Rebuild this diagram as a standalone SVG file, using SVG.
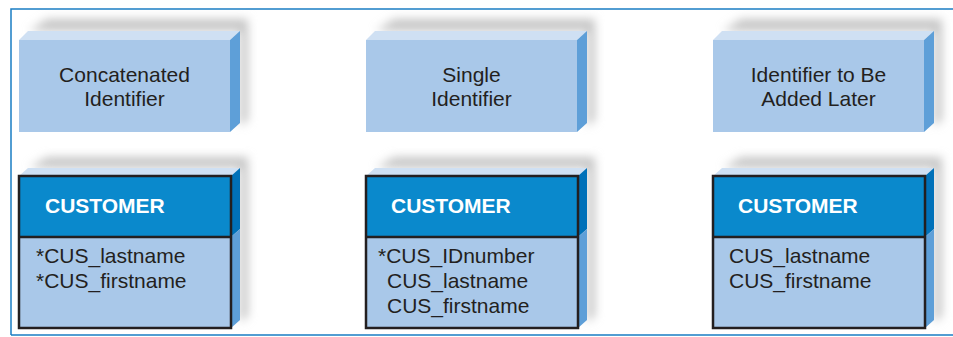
<svg xmlns="http://www.w3.org/2000/svg" xmlns:xlink="http://www.w3.org/1999/xlink" width="953" height="337" viewBox="0 0 953 337">
<style>
.lbl{font-family:"Liberation Sans",Arial,sans-serif;font-size:21px;fill:#231f20;}
.hdr{font-family:"Liberation Sans",Arial,sans-serif;font-size:21px;font-weight:bold;fill:#ffffff;}
.front{fill:#a9c8e9;}
.top{fill:#cfe0f3;}
.side{fill:#5e9fd8;}
.hside{fill:#0071b9;}
.head{fill:#0a89cc;}
.edge{fill:none;stroke:#231f20;stroke-width:2.5;}
.shadow{fill:#c6c6c6;}
.frame{fill:none;stroke:#1a7dc4;stroke-width:1.5;}
</style>
<defs>
<filter id="blur" x="-20%" y="-40%" width="140%" height="180%">
<feGaussianBlur stdDeviation="5"/>
</filter>
<g id="idBox">
<polygon class="shadow" points="28,-21 229,-21 229,80 221,86 221,-9 10,-9" filter="url(#blur)"/>
<rect class="front" x="0" y="0" width="211" height="92"/>
<polygon class="top" points="0,0 9,-9 221,-9 211,0"/>
<polygon class="side" points="211,0 221,-9 221,83 211,92"/>
</g>
<g id="entBox">
<polygon class="shadow" points="28,-19 229,-19 229,140 221,146 221,-8 10,-8" filter="url(#blur)"/>
<rect class="front" x="0" y="0" width="212" height="152"/>
<rect class="head" x="0" y="0" width="212" height="61"/>
<polygon class="top" points="0,0 9,-8 221,-8 212,0"/>
<polygon class="hside" points="212,0 221,-8 221,53 212,61"/>
<polygon class="side" points="212,61 221,53 221,144 212,152"/>
<rect class="edge" x="0" y="0" width="212" height="152"/>
<line class="edge" x1="0" y1="61" x2="212" y2="61"/>
</g>
</defs>
<rect x="0" y="0" width="953" height="337" fill="#ffffff"/>
<g id="frame">
<path class="frame" d="M11,335 V9 H953 M11,335 H953"/>
</g>
<g id="connectors"></g>
<g id="concat-label">
<use xlink:href="#idBox" href="#idBox" transform="translate(19,40)"/>
<text class="lbl" x="124.5" y="82" text-anchor="middle">Concatenated</text>
<text class="lbl" x="124.5" y="106" text-anchor="middle">Identifier</text>
</g>
<g id="single-label">
<use xlink:href="#idBox" href="#idBox" transform="translate(366,40)"/>
<text class="lbl" x="471.5" y="82" text-anchor="middle">Single</text>
<text class="lbl" x="471.5" y="106" text-anchor="middle">Identifier</text>
</g>
<g id="later-label">
<use xlink:href="#idBox" href="#idBox" transform="translate(713,40)"/>
<text class="lbl" x="818.5" y="82" text-anchor="middle">Identifier to Be</text>
<text class="lbl" x="818.5" y="106" text-anchor="middle">Added Later</text>
</g>
<g id="customer-concat">
<use xlink:href="#entBox" href="#entBox" transform="translate(19,176)"/>
<text class="hdr" x="45" y="213">CUSTOMER</text>
<text class="lbl" x="36" y="263">*CUS_lastname</text>
<text class="lbl" x="36" y="288">*CUS_firstname</text>
</g>
<g id="customer-single">
<use xlink:href="#entBox" href="#entBox" transform="translate(366,176)"/>
<text class="hdr" x="391" y="213">CUSTOMER</text>
<text class="lbl" x="378" y="263">*CUS_IDnumber</text>
<text class="lbl" x="387" y="288">CUS_lastname</text>
<text class="lbl" x="387" y="313">CUS_firstname</text>
</g>
<g id="customer-later">
<use xlink:href="#entBox" href="#entBox" transform="translate(713,176)"/>
<text class="hdr" x="738" y="213">CUSTOMER</text>
<text class="lbl" x="729" y="263">CUS_lastname</text>
<text class="lbl" x="729" y="288">CUS_firstname</text>
</g>
</svg>
